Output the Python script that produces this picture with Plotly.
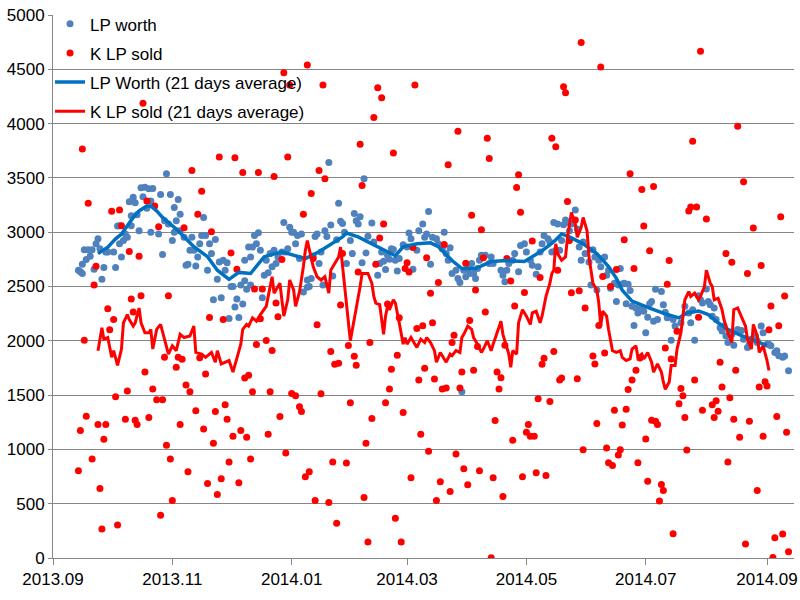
import plotly.graph_objects as go
import pandas as pd

BASE = "2013-09-01"  # day 0 of the day counts below

# ---- LP worth (blue dots): day number since 2013-09-01, value ----
blue_day = [13, 14, 15, 15, 16, 17, 18, 19, 20, 21, 22, 23, 24, 25, 26, 27, 28, 31, 32, 33,
            34, 35, 34, 36, 37, 38, 39, 40, 40, 41, 42, 43, 44, 45, 46, 47, 48, 49, 50, 50,
            51, 54, 55, 56, 57, 58, 59, 60, 61, 62, 62, 63, 63, 64, 65, 65, 67, 68, 69, 70,
            71, 72, 73, 74, 75, 76, 77, 78, 79, 80, 81, 82, 83, 84, 85, 86, 87, 88, 89, 90,
            91, 92, 93, 94, 95, 96, 97, 98, 98, 99, 100, 101, 101, 102, 103, 104, 105, 106, 107, 108,
            109, 110, 111, 112, 113, 114, 115, 117, 118, 119, 120, 121, 122, 123, 124, 125, 126, 127, 128, 130,
            130, 131, 132, 133, 134, 135, 136, 137, 138, 139, 140, 141, 142, 143, 145, 146, 147, 148, 149, 150,
            152, 153, 154, 155, 156, 157, 158, 159, 160, 161, 163, 164, 166, 167, 168, 169, 170, 171, 172, 173,
            174, 175, 176, 177, 179, 181, 182, 183, 184, 186, 187, 189, 190, 191, 192, 193, 194, 196, 197, 199,
            200, 201, 202, 203, 204, 206, 207, 208, 209, 210, 211, 212, 213, 214, 215, 216, 217, 218, 219, 221,
            223, 224, 225, 229, 230, 231, 232, 233, 235, 236, 238, 239, 241, 242, 244, 245, 247, 248, 249, 250,
            251, 253, 254, 255, 256, 257, 258, 259, 260, 261, 262, 263, 264, 265, 267, 268, 269, 270, 271, 272,
            274, 275, 276, 277, 278, 279, 280, 281, 282, 283, 284, 285, 287, 288, 289, 290, 291, 292, 293, 294,
            295, 296, 297, 298, 299, 301, 302, 303, 304, 305, 306, 307, 308, 309, 311, 312, 313, 314, 316, 317,
            318, 321, 323, 325, 326, 327, 328, 330, 331, 332, 334, 335, 336, 337, 338, 339, 341, 342, 343, 344,
            345, 347, 348, 350, 351, 352, 353, 355, 356, 357, 359, 360, 360, 362, 363, 365, 366, 367, 369, 370,
            371, 373, 374, 376]
blue_val = [2651, 2636, 2621, 2705, 2839, 2748, 2839, 2778, 2839, 2660, 2893, 2939, 2848, 2566, 2675, 2818, 2818, 2818, 2675, 3057,
            2893, 2772, 3060, 2923, 2984, 2954, 3281, 3151, 3060, 3323, 3272, 3160, 3014, 3409, 3327, 3414, 3221, 3400, 3287, 3000,
            3402, 2984, 3348, 2796, 3105, 3539, 3075, 3348, 2923, 3000, 3227, 3014, 3105, 3302, 3166, 3014, 2954, 2696, 2705, 2833,
            2954, 2833, 2690, 2772, 2893, 2969, 3136, 2969, 2651, 2893, 2803, 2378, 2933, 2566, 2727, 2396, 2742, 2651, 2718, 2206,
            2500, 2500, 2312, 2384, 2215, 2515, 2339, 2554, 2742, 2475, 2863, 2515, 2772, 2863, 2969, 2893, 2996, 2833, 2396, 2605,
            2742, 2627, 2803, 2681, 2833, 2711, 2772, 2818, 3090, 2818, 2848, 3045, 3000, 3000, 2893, 2969, 2757, 2984, 2450, 2493,
            2560, 2500, 2575, 2781, 2960, 2984, 2711, 2818, 2515, 3014, 2960, 3642, 3066, 2596, 2930, 3266, 3102, 3081, 3000, 2711,
            2923, 2803, 3172, 3105, 3075, 3142, 2718, 3493, 2809, 2963, 3084, 2909, 2605, 2711, 2818, 2733, 2657, 2787, 2751, 2848,
            2842, 2742, 2642, 2757, 2884, 2863, 2993, 2939, 2660, 2833, 3014, 3075, 2954, 2984, 3190, 2705, 2954, 2939, 2893, 2848,
            3000, 2803, 2742, 2857, 2621, 2651, 2575, 2536, 1530, 2651, 2590, 2666, 2621, 2711, 2621, 2575, 2666, 2742, 2787, 2787,
            2711, 2772, 2711, 2651, 2605, 2545, 2651, 2711, 2742, 2803, 2636, 2878, 2893, 2818, 2742, 2696, 2614, 2681, 2818, 2893,
            2969, 2939, 2909, 2818, 3090, 2833, 3075, 2833, 2923, 3069, 3112, 3090, 3014, 3075, 3205, 3030, 2863, 2742, 2909, 2803,
            2727, 2515, 2839, 2772, 2469, 2742, 2681, 2757, 2772, 2605, 2651, 2484, 2530, 2363, 2515, 2666, 2524, 2530, 2342, 2521,
            2463, 2318, 2142, 2303, 2257, 2303, 2272, 2075, 2218, 2342, 2363, 2181, 2475, 2196, 2454, 2333, 2263, 2212, 2005, 2196,
            2136, 2166, 2318, 2257, 2166, 2287, 2005, 2415, 2378, 2348, 2478, 2363, 2333, 2227, 2303, 2196, 2121, 2090, 2136, 2045,
            1984, 2060, 1960, 2105, 2096, 2096, 2015, 1939, 1969, 2015, 2045, 2000, 1984, 2136, 2075, 1969, 1969, 1954, 1893, 1909,
            1863, 1848, 1860, 1724]

# ---- K LP sold (red dots): day number since 2013-09-01, value ----
red_day = [13, 14, 15, 16, 17, 18, 20, 21, 22, 23, 24, 25, 26, 27, 28, 29, 30, 31, 32, 33,
           34, 35, 37, 38, 39, 40, 41, 42, 43, 44, 45, 46, 47, 48, 49, 51, 52, 53, 54, 55,
           56, 57, 58, 59, 60, 61, 63, 64, 65, 66, 67, 68, 69, 70, 71, 73, 74, 75, 76, 77,
           78, 79, 80, 81, 82, 83, 84, 85, 86, 87, 88, 89, 90, 91, 92, 93, 94, 95, 96, 97,
           98, 99, 100, 101, 102, 103, 104, 105, 106, 107, 109, 110, 111, 112, 113, 114, 115, 116, 117, 118,
           119, 120, 121, 122, 124, 126, 127, 128, 129, 130, 131, 132, 133, 134, 135, 136, 137, 138, 139, 141,
           142, 143, 144, 145, 146, 147, 148, 150, 151, 152, 154, 155, 156, 157, 158, 159, 160, 161, 162, 163,
           164, 165, 166, 167, 168, 169, 170, 171, 172, 173, 174, 175, 176, 177, 178, 179, 180, 181, 182, 183,
           184, 185, 186, 187, 188, 189, 190, 191, 192, 193, 194, 195, 196, 197, 198, 199, 200, 201, 202, 203,
           204, 205, 206, 207, 208, 209, 210, 211, 212, 213, 214, 215, 216, 217, 218, 219, 220, 221, 222, 223,
           224, 225, 226, 227, 228, 229, 230, 231, 232, 234, 235, 236, 237, 238, 239, 240, 241, 242, 243, 244,
           245, 246, 247, 248, 249, 250, 251, 252, 254, 255, 256, 257, 258, 259, 260, 261, 262, 263, 264, 265,
           267, 268, 269, 270, 271, 272, 276, 277, 278, 279, 280, 281, 282, 283, 284, 285, 286, 287, 288, 289,
           290, 291, 292, 293, 294, 295, 296, 297, 298, 299, 300, 301, 302, 303, 304, 305, 306, 307, 308, 309,
           310, 311, 312, 313, 314, 315, 316, 317, 319, 320, 321, 322, 323, 324, 325, 326, 327, 328, 329, 330,
           331, 332, 334, 337, 338, 339, 340, 341, 342, 344, 345, 346, 347, 348, 349, 350, 351, 353, 354, 355,
           356, 358, 360, 361, 362, 363, 364, 365, 366, 367, 368, 369, 370, 371, 372, 373, 374, 375, 376]
red_val = [803, 1175, 3766, 2005, 1305, 3266, 912, 2515, 2687, 1230, 639, 266, 1093, 1230, 2296, 2102, 3194, 2196, 1484, 303,
           3205, 3060, 1278, 1539, 2823, 2384, 2266, 1269, 1230, 2778, 2414, 4187, 1712, 3287, 1293, 1557, 3242, 1457, 3051, 394,
           1457, 1848, 1039, 2414, 912, 530, 1757, 1848, 1230, 1830, 3042, 1594, 794, 1530, 3569, 1357, 3166, 1845, 3378, 1187,
           1694, 685, 2214, 3005, 1057, 1348, 584, 3693, 730, 2196, 1412, 1278, 884, 2809, 1121, 3687, 2660, 694, 1175, 3551,
           1657, 1112, 1682, 912, 1530, 2478, 1966, 3551, 2203, 2478, 2003, 1139, 1530, 1912, 3514, 2348, 2221, 1303, 2748, 4469,
           966, 3693, 4357, 1515, 1494, 1394, 1348, 3166, 748, 4540, 794, 3357, 2757, 530, 2148, 3569, 1512, 4357, 3493, 512,
           1902, 884, 1784, 321, 1793, 2330, 2805, 875, 1957, 1430, 1857, 1775, 2633, 3811, 3430, 557, 1057, 148, 1984, 1284,
           4057, 2705, 4330, 2948, 4239, 3075, 1430, 2339, 1557, 1739, 3730, 366, 1866, 2212, 148, 1339, 2666, 2720, 2633, 739,
           2860, 4357, 2114, 1639, 1139, 2139, 1748, 2766, 984, 2439, 2166, 1648, 530, 2536, 703, 1557, 2887, 1566, 3621, 612,
           1984, 2051, 957, 3930, 1566, 1712, 821, 2714, 675, 2187, 3157, 1730, 2469, 1948, 803, 3023, 2766, 2266, 3866, 3678,
           3, 739, 1266, 1712, 1557, 1660, 566, 1960, 2757, 2551, 1084, 2321, 3412, 3530, 3184, 748, 2445, 1157, 1230, 1121,
           2920, 1121, 785, 1466, 2584, 1784, 1839, 760, 1442, 3866, 1902, 3787, 2651, 1639, 1657, 4339, 4284, 3284, 2923, 2442,
           3113, 1651, 2460, 4748, 996, 2303, 1860, 1787, 1239, 2142, 4521, 2593, 1887, 1014, 878, 2500, 851, 1360, 2657, 948,
           996, 1224, 2930, 1369, 1551, 3539, 1639, 2666, 1730, 878, 1842, 3393, 3057, 1096, 706, 2830, 1269, 3421, 1260, 1230,
           524, 678, 621, 1933, 2521, 2739, 1833, 224, 2087, 1421, 1560, 1494, 1293, 994, 3196, 3233, 3839, 1639, 3233, 2218,
           4666, 1360, 3121, 1412, 1293, 1448, 1351, 1803, 1575, 2803, 884, 1475, 2724, 1278, 1730, 3975, 1112, 3466, 130, 2621,
           1260, 3039, 621, 1575, 2693, 1121, 1624, 1584, 2103, 2321, 5, 187, 1303, 2139, 3142, 221, 2412, 1157, 57]

# ---- LP Worth (21 days average) ----
blue_avg_day = [23, 28, 32, 35, 38, 41, 44, 48, 50, 53, 56, 60, 64, 72, 79, 84, 90, 95, 101, 108,
                117, 129, 136, 148, 150, 156, 163, 171, 175, 179, 186, 193, 197, 204, 209, 216, 224, 232, 241, 250,
                256, 260, 264, 271, 278, 284, 288, 291, 296, 305, 314, 320, 324, 330, 335, 340, 345, 352, 359, 365]
blue_avg_val = [2803, 2863, 2939, 2984, 3060, 3136, 3196, 3242, 3242, 3196, 3136, 3075, 3014, 2866, 2775, 2650, 2566, 2630, 2620, 2775,
                2820, 2757, 2820, 2957, 2993, 2957, 2893, 2820, 2784, 2866, 2893, 2902, 2866, 2739, 2666, 2666, 2730, 2739, 2730, 2830,
                2912, 2984, 2957, 2893, 2803, 2684, 2575, 2466, 2366, 2302, 2242, 2211, 2257, 2275, 2242, 2166, 2105, 2047, 2002, 1957]

# ---- K LP sold (21 days average) ----
red_avg_day = [23, 25, 26, 28, 30, 31, 33, 35, 36, 38, 39, 41, 42, 44, 45, 47, 49, 50, 51, 53,
               55, 57, 59, 61, 63, 65, 67, 70, 72, 73, 76, 78, 81, 83, 84, 86, 88, 90, 92, 94,
               96, 97, 99, 100, 102, 104, 106, 109, 111, 112, 113, 116, 118, 120, 121, 123, 124, 126, 128, 129,
               130, 131, 133, 135, 137, 139, 141, 142, 144, 146, 147, 148, 152, 157, 158, 159, 161, 163, 164, 165,
               167, 169, 170, 171, 172, 174, 175, 177, 179, 180, 181, 183, 185, 186, 188, 190, 191, 193, 195, 196,
               198, 199, 201, 203, 204, 206, 208, 209, 210, 212, 214, 215, 217, 219, 220, 222, 224, 225, 227, 229,
               230, 231, 233, 234, 235, 237, 238, 240, 242, 244, 245, 247, 249, 250, 252, 254, 255, 256, 257, 258,
               260, 262, 263, 265, 267, 268, 270, 271, 273, 274, 276, 278, 279, 280, 281, 283, 284, 286, 288, 290,
               291, 293, 295, 296, 298, 299, 301, 302, 304, 306, 307, 309, 311, 312, 313, 315, 316, 318, 319, 321,
               323, 325, 326, 328, 330, 331, 333, 334, 336, 337, 338, 340, 342, 343, 345, 347, 348, 350, 352, 354,
               355, 357, 358, 360, 361, 363, 365, 366]
red_avg_val = [1909, 2121, 2015, 2030, 1848, 1909, 1773, 1924, 2166, 2242, 2196, 2136, 2166, 2302, 2166, 2075, 2075, 2105, 1924, 2105,
               2151, 2000, 1878, 1954, 1909, 2060, 2030, 2045, 2136, 1893, 1878, 1848, 1893, 1803, 1909, 1787, 1803, 1818, 1712, 1833,
               1969, 2105, 2151, 2136, 2212, 2181, 2242, 2318, 2500, 2590, 2439, 2530, 2227, 2378, 2560, 2469, 2318, 2450, 2684, 2832,
               2923, 2832, 2684, 2590, 2560, 2590, 2439, 2651, 2711, 2772, 2863, 2681, 2000, 2500, 2620, 2620, 2620, 2530, 2409, 2348,
               2333, 2060, 2227, 2318, 2287, 2378, 2348, 2166, 1969, 2030, 1969, 2030, 1969, 1939, 2015, 1984, 2030, 1984, 1909, 1803,
               1893, 1863, 1803, 1878, 1863, 1909, 1893, 2030, 2060, 2136, 2105, 2030, 1969, 1893, 1924, 2000, 1909, 1969, 2075, 2181,
               2060, 2000, 1878, 1757, 1909, 1878, 2166, 2287, 2227, 2151, 2257, 2272, 2166, 2227, 2409, 2530, 2620, 2651, 2893, 2803,
               2742, 2772, 2954, 3182, 3075, 2954, 3045, 3136, 3014, 2772, 2530, 2469, 2348, 2136, 2272, 2227, 2105, 1909, 1893, 1909,
               1848, 1818, 1833, 1924, 1954, 1848, 1878, 1833, 1893, 1803, 1712, 1787, 1712, 1621, 1554, 1621, 1773, 1773, 1924, 2075,
               2378, 2454, 2409, 2439, 2378, 2409, 2500, 2651, 2530, 2500, 2378, 2393, 2287, 2196, 2075, 1984, 2287, 2303, 2227, 2136,
               2015, 1924, 2151, 2045, 1893, 1954, 1818, 1727]

# ---- axis ticks ----
y_ticks = [0, 500, 1000, 1500, 2000, 2500, 3000, 3500, 4000, 4500, 5000]


def to_dates(days):
    base = pd.Timestamp(BASE)
    return [base + pd.Timedelta(days=int(d)) for d in days]


FONT = "Liberation Sans, Arial, sans-serif"
GRID = "#868686"

fig = go.Figure()
fig.add_trace(go.Scatter(x=to_dates(blue_day), y=blue_val, mode="markers", name="LP worth",
                         legendgroup="a", marker=dict(color="#4F81BD", size=7)))
fig.add_trace(go.Scatter(x=to_dates(red_day), y=red_val, mode="markers", name="K LP sold",
                         legendgroup="b", marker=dict(color="#FF0000", size=7)))
fig.add_trace(go.Scatter(x=to_dates(blue_avg_day), y=blue_avg_val, mode="lines",
                         name="LP Worth (21 days average)", legendgroup="c",
                         line=dict(color="#0070C0", width=3.5)))
fig.add_trace(go.Scatter(x=to_dates(red_avg_day), y=red_avg_val, mode="lines",
                         name="K LP sold (21 days average)", legendgroup="d",
                         line=dict(color="#FF0000", width=3)))

fig.update_layout(
    width=800, height=600,
    margin=dict(l=53, r=6, t=8, b=42),
    plot_bgcolor="white", paper_bgcolor="white",
    font=dict(family=FONT, size=17, color="black"),
    showlegend=True,
    legend=dict(x=-0.004, y=1.016, xanchor="left", yanchor="top",
                bgcolor="rgba(0,0,0,0)", traceorder="grouped", tracegroupgap=4,
                itemwidth=30, font=dict(family=FONT, size=17, color="black")),
)
fig.update_xaxes(type="date", range=["2013-09-01", "2014-09-14 19:00"],
                 tick0="2013-09-01", dtick="M2", tickformat="%Y.%m", automargin=False,
                 showgrid=False, zeroline=False, showline=True, linecolor=GRID, linewidth=1,
                 ticks="outside", ticklen=6, tickcolor=GRID,
                 tickfont=dict(family=FONT, size=17, color="black"))
fig.update_yaxes(range=[0, 5000.5], tickvals=y_ticks, showgrid=True, gridcolor=GRID, gridwidth=1,
                 zeroline=False, showline=True, linecolor=GRID, linewidth=1, automargin=False,
                 ticks="outside", ticklen=4, tickcolor=GRID,
                 tickfont=dict(family=FONT, size=17, color="black"))

fig.write_html("out.html", config={"displayModeBar": False},
               post_script="document.body.style.margin='0px';document.body.style.padding='0px';")
